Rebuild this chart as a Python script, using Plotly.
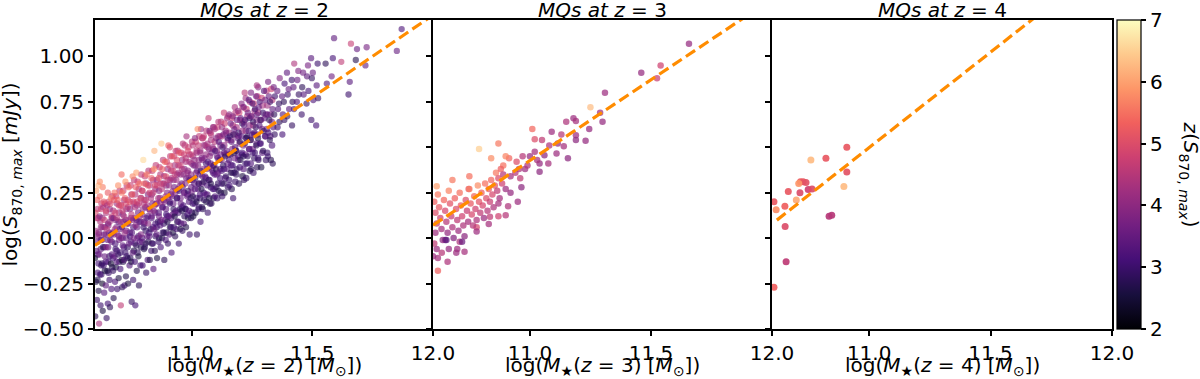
import plotly.graph_objects as go

# ---------------- data ----------------
# Panel 1 (MQs at z=2): log M*, log S870max, z(S870max) -- outer/edge population
p1_x = [
    10.601, 10.608, 10.604, 10.611, 10.600, 10.606, 10.610, 10.603, 10.607, 10.602, 10.609, 10.605,
    10.617, 10.623, 10.615, 10.621, 10.626, 10.618, 10.624, 10.616, 10.622, 10.619, 10.625, 10.620,
    10.632, 10.638, 10.630, 10.636, 10.640, 10.633, 10.637, 10.631, 10.639, 10.634, 10.636, 10.632,
    10.648, 10.653, 10.645, 10.651, 10.655, 10.647, 10.652, 10.649, 10.654, 10.646, 10.650, 10.653,
    10.662, 10.668, 10.660, 10.666, 10.670, 10.663, 10.667, 10.661, 10.669, 10.664, 10.666,
    10.677, 10.683, 10.675, 10.681, 10.685, 10.678, 10.682, 10.676, 10.684, 10.679, 10.681,
    10.692, 10.698, 10.690, 10.696, 10.700, 10.693, 10.697, 10.691, 10.699, 10.694, 10.696,
    10.707, 10.713, 10.705, 10.711, 10.715, 10.708, 10.712, 10.706, 10.714, 10.709, 10.711,
    10.722, 10.728, 10.720, 10.726, 10.730, 10.723, 10.727, 10.721, 10.729, 10.724, 10.726,
    10.737, 10.743, 10.735, 10.741, 10.745, 10.738, 10.742, 10.736, 10.744, 10.739,
    10.752, 10.758, 10.750, 10.756, 10.760, 10.753, 10.757, 10.751, 10.759, 10.754, 10.756,
    10.767, 10.773, 10.765, 10.771, 10.775, 10.768, 10.772, 10.766, 10.774, 10.769, 10.771,
    10.782, 10.788, 10.780, 10.786, 10.790, 10.783, 10.787, 10.781, 10.789, 10.784,
    10.797, 10.803, 10.795, 10.801, 10.805, 10.798, 10.802, 10.796, 10.804, 10.800,
    10.812, 10.818, 10.810, 10.816, 10.820, 10.813, 10.817, 10.811, 10.819, 10.814,
    10.827, 10.833, 10.825, 10.831, 10.835, 10.828, 10.832, 10.826, 10.834,
    10.842, 10.848, 10.840, 10.846, 10.850, 10.843, 10.847, 10.841, 10.849, 10.844, 10.846,
    10.857, 10.863, 10.855, 10.861, 10.865, 10.858, 10.862, 10.856, 10.864,
    10.872, 10.878, 10.870, 10.876, 10.880, 10.873, 10.877, 10.871, 10.879, 10.875,
    10.887, 10.893, 10.885, 10.891, 10.895, 10.888, 10.892, 10.886, 10.894, 10.889,
    10.902, 10.908, 10.900, 10.906, 10.910, 10.903, 10.907, 10.901, 10.909, 10.904,
    10.917, 10.923, 10.915, 10.921, 10.925, 10.918, 10.922, 10.916, 10.924, 10.919,
    10.932, 10.938, 10.930, 10.936, 10.940, 10.933, 10.937, 10.931, 10.939, 10.934,
    10.947, 10.953, 10.945, 10.951, 10.955, 10.948, 10.952, 10.946, 10.954, 10.949,
    10.962, 10.968, 10.960, 10.966, 10.970, 10.963, 10.967, 10.961, 10.969, 10.964,
    10.977, 10.983, 10.975, 10.981, 10.985, 10.978, 10.982, 10.976, 10.984, 10.979,
    10.992, 10.998, 10.990, 10.996, 11.000, 10.993, 10.997, 10.991, 10.999,
    11.007, 11.013, 11.005, 11.011, 11.015, 11.008, 11.012, 11.006, 11.014,
    11.022, 11.028, 11.020, 11.026, 11.030, 11.023, 11.027, 11.021, 11.029,
    11.037, 11.043, 11.035, 11.041, 11.045, 11.038, 11.042, 11.036, 11.044, 11.039,
    11.052, 11.058, 11.050, 11.056, 11.060, 11.053, 11.057, 11.051,
    11.067, 11.073, 11.065, 11.071, 11.075, 11.068, 11.072, 11.066, 11.074,
    11.082, 11.088, 11.080, 11.086, 11.090, 11.083, 11.087, 11.081, 11.089,
    11.097, 11.103, 11.095, 11.101, 11.105, 11.098, 11.102, 11.096,
    11.112, 11.118, 11.110, 11.116, 11.120, 11.113, 11.117, 11.111,
    11.127, 11.133, 11.125, 11.131, 11.135, 11.128, 11.132, 11.126, 11.134,
    11.142, 11.148, 11.140, 11.146, 11.150, 11.143, 11.147,
    11.157, 11.163, 11.155, 11.161, 11.165, 11.158, 11.162, 11.156,
    11.172, 11.178, 11.170, 11.176, 11.180, 11.173, 11.177, 11.171, 11.179,
    11.187, 11.193, 11.185, 11.191, 11.195, 11.188, 11.192,
    11.202, 11.208, 11.200, 11.206, 11.210, 11.203, 11.207,
    11.217, 11.223, 11.215, 11.221, 11.225, 11.218, 11.222, 11.216, 11.224,
    11.232, 11.238, 11.230, 11.236, 11.240, 11.233, 11.237,
    11.247, 11.253, 11.245, 11.251, 11.255, 11.248, 11.252, 11.246,
    11.262, 11.268, 11.260, 11.266, 11.270, 11.263, 11.267,
    11.277, 11.283, 11.275, 11.281, 11.285, 11.278, 11.282, 11.276,
    11.296, 11.304, 11.298, 11.302, 11.295, 11.305, 11.300,
    11.316, 11.324, 11.318, 11.322, 11.315, 11.325, 11.320, 11.317,
    11.336, 11.344, 11.338, 11.342, 11.335, 11.345, 11.340,
    11.356, 11.364, 11.358, 11.362, 11.355, 11.365,
    11.376, 11.384, 11.378, 11.382, 11.375, 11.385,
    11.396, 11.404, 11.398, 11.402, 11.395,
    11.416, 11.424, 11.418, 11.422, 11.415, 11.425,
    11.436, 11.444, 11.438, 11.442,
    11.456, 11.464, 11.458, 11.462,
    11.476, 11.484, 11.478, 11.482,
    11.496, 11.504, 11.498, 11.502, 11.495,
    11.516, 11.524, 11.518, 11.522,
    11.560, 11.555, 11.590, 11.580, 11.585, 11.620, 11.650, 11.655, 11.660,
    11.680, 11.685, 11.720, 11.725, 11.850, 11.870,
    11.22, 11.27, 11.07, 11.025, 10.91, 10.71, 10.615, 10.62,
]
p1_y = [
    -0.43, -0.34, -0.24, -0.19, -0.11, -0.07, 0.01, 0.04, 0.11, 0.14, 0.21, 0.26,
    -0.47, -0.37, -0.29, -0.20, -0.15, -0.09, -0.01, 0.02, 0.09, 0.12, 0.16, 0.23,
    -0.40, -0.30, -0.25, -0.15, -0.10, -0.05, 0.02, 0.06, 0.10, 0.17, 0.20, 0.28,
    -0.44, -0.36, -0.26, -0.18, -0.13, -0.05, -0.01, 0.05, 0.08, 0.15, 0.18, 0.25,
    -0.38, -0.28, -0.23, -0.14, -0.09, -0.01, 0.02, 0.09, 0.12, 0.19, 0.22,
    -0.33, -0.24, -0.18, -0.10, -0.06, 0.02, 0.05, 0.11, 0.14, 0.21, 0.25,
    -0.28, -0.22, -0.13, -0.09, -0.01, 0.02, 0.09, 0.11, 0.18, 0.21, 0.29,
    -0.37, -0.27, -0.17, -0.12, -0.04, 0.00, 0.06, 0.09, 0.15, 0.18, 0.25,
    -0.26, -0.21, -0.12, -0.08, 0.00, 0.03, 0.10, 0.12, 0.19, 0.22, 0.31,
    -0.25, -0.15, -0.11, -0.03, 0.01, 0.08, 0.10, 0.17, 0.20, 0.28,
    -0.35, -0.23, -0.13, -0.08, 0.00, 0.03, 0.10, 0.13, 0.20, 0.24, 0.34,
    -0.37, -0.18, -0.13, -0.04, 0.00, 0.07, 0.10, 0.17, 0.20, 0.28, 0.36,
    -0.26, -0.15, -0.10, -0.02, 0.02, 0.09, 0.12, 0.19, 0.22, 0.30,
    -0.15, -0.06, -0.02, 0.06, 0.09, 0.16, 0.19, 0.26, 0.30, 0.43,
    -0.19, -0.12, -0.03, 0.01, 0.08, 0.11, 0.18, 0.21, 0.29, 0.35,
    -0.12, -0.07, 0.01, 0.05, 0.12, 0.15, 0.22, 0.25, 0.33,
    -0.17, -0.07, -0.03, 0.05, 0.08, 0.15, 0.18, 0.25, 0.29, 0.38, 0.48,
    -0.11, -0.02, 0.02, 0.09, 0.12, 0.19, 0.22, 0.29, 0.33,
    -0.05, 0.00, 0.07, 0.10, 0.17, 0.20, 0.27, 0.30, 0.38, 0.52,
    -0.12, -0.01, 0.03, 0.10, 0.13, 0.20, 0.23, 0.30, 0.34, 0.42,
    -0.03, 0.02, 0.09, 0.12, 0.19, 0.22, 0.29, 0.32, 0.40, 0.51,
    -0.08, 0.03, 0.06, 0.13, 0.16, 0.23, 0.26, 0.33, 0.37, 0.45,
    0.01, 0.05, 0.12, 0.15, 0.22, 0.25, 0.32, 0.35, 0.43, 0.48,
    -0.03, 0.05, 0.09, 0.16, 0.19, 0.26, 0.29, 0.36, 0.40, 0.47,
    0.04, 0.08, 0.15, 0.18, 0.25, 0.28, 0.35, 0.38, 0.46, 0.52,
    0.06, 0.13, 0.16, 0.23, 0.26, 0.33, 0.36, 0.44, 0.48, 0.56,
    0.02, 0.11, 0.15, 0.22, 0.25, 0.32, 0.35, 0.42, 0.46,
    0.12, 0.19, 0.23, 0.30, 0.33, 0.40, 0.43, 0.51, 0.55,
    0.02, 0.16, 0.20, 0.27, 0.30, 0.37, 0.40, 0.47, 0.51,
    0.09, 0.17, 0.24, 0.27, 0.34, 0.37, 0.44, 0.47, 0.55, 0.60,
    0.21, 0.24, 0.31, 0.34, 0.41, 0.44, 0.51, 0.56,
    0.14, 0.22, 0.29, 0.32, 0.39, 0.42, 0.49, 0.52, 0.59,
    0.19, 0.27, 0.30, 0.37, 0.40, 0.47, 0.50, 0.57, 0.61,
    0.23, 0.28, 0.35, 0.38, 0.45, 0.48, 0.55, 0.60,
    0.26, 0.33, 0.36, 0.43, 0.46, 0.53, 0.56, 0.64,
    0.23, 0.30, 0.37, 0.40, 0.47, 0.50, 0.57, 0.61, 0.69,
    0.34, 0.38, 0.45, 0.48, 0.55, 0.58, 0.66,
    0.29, 0.36, 0.43, 0.46, 0.53, 0.56, 0.63, 0.68,
    0.22, 0.36, 0.40, 0.47, 0.50, 0.57, 0.60, 0.67, 0.72,
    0.38, 0.45, 0.48, 0.55, 0.58, 0.65, 0.70,
    0.43, 0.46, 0.53, 0.56, 0.63, 0.66, 0.74,
    0.32, 0.41, 0.45, 0.52, 0.55, 0.62, 0.65, 0.72, 0.77,
    0.45, 0.49, 0.56, 0.59, 0.66, 0.69, 0.76,
    0.38, 0.47, 0.54, 0.57, 0.64, 0.67, 0.74, 0.80,
    0.47, 0.51, 0.58, 0.61, 0.68, 0.71, 0.78,
    0.43, 0.52, 0.55, 0.62, 0.65, 0.72, 0.75, 0.83,
    0.48, 0.56, 0.59, 0.66, 0.69, 0.76, 0.81,
    0.45, 0.54, 0.58, 0.65, 0.68, 0.75, 0.78, 0.86,
    0.41, 0.57, 0.61, 0.68, 0.71, 0.78, 0.83,
    0.61, 0.64, 0.71, 0.74, 0.81, 0.88,
    0.57, 0.65, 0.68, 0.75, 0.78, 0.85,
    0.67, 0.71, 0.79, 0.82, 0.91,
    0.62, 0.71, 0.75, 0.83, 0.87, 0.96,
    0.75, 0.79, 0.87, 0.92,
    0.68, 0.79, 0.83, 0.91,
    0.74, 0.81, 0.89, 0.95,
    0.65, 0.76, 0.88, 0.91, 0.99,
    0.62, 0.77, 0.84, 0.96,
    0.85, 0.96, 1.10, 0.89, 0.99, 0.97, 0.79, 0.86, 1.07,
    0.98, 1.04, 0.95, 1.05, 1.03, 1.15,
    0.80, 0.84, 0.66, 0.60, 0.50, 0.35, 0.29, 0.31,
]
p1_z = [
    2.8, 3.0, 2.6, 3.2, 2.5, 3.4, 3.8, 4.2, 4.6, 5.0, 5.3, 6.0,
    4.3, 3.0, 2.7, 3.1, 2.9, 3.6, 3.3, 4.0, 4.4, 3.9, 4.8, 5.4,
    2.6, 3.3, 2.4, 3.0, 3.5, 2.8, 3.7, 4.1, 4.7, 4.3, 5.1, 5.6,
    2.9, 3.1, 3.4, 2.6, 3.2, 3.9, 3.4, 4.5, 3.8, 4.9, 4.4, 5.2,
    2.8, 3.2, 3.0, 2.5, 3.3, 3.7, 3.1, 4.2, 4.6, 5.0, 5.7,
    2.7, 3.2, 2.9, 3.5, 3.0, 3.9, 4.3, 3.6, 4.8, 5.1, 5.5,
    3.0, 2.6, 3.3, 2.9, 3.6, 4.0, 3.4, 4.5, 4.9, 5.3, 5.8,
    4.6, 2.8, 3.1, 2.5, 3.4, 3.8, 3.2, 4.2, 4.7, 5.0, 5.6,
    3.0, 2.7, 3.3, 3.0, 3.5, 4.1, 3.7, 4.4, 4.9, 5.2, 5.9,
    2.6, 3.2, 2.8, 3.5, 3.1, 3.9, 4.3, 4.6, 5.1, 5.4,
    2.9, 3.0, 2.6, 3.4, 3.7, 3.3, 4.0, 4.5, 4.8, 5.3, 5.7,
    3.1, 2.7, 3.1, 2.8, 3.6, 4.0, 3.5, 4.4, 4.9, 5.2, 6.0,
    2.8, 3.0, 2.6, 3.3, 3.8, 3.4, 4.2, 4.6, 5.0, 5.4,
    3.1, 2.7, 3.4, 3.0, 3.7, 4.1, 4.5, 4.9, 5.3, 6.6,
    2.9, 3.2, 2.8, 3.5, 3.9, 3.3, 4.3, 4.7, 5.1, 5.6,
    2.7, 3.0, 3.3, 2.9, 3.6, 4.0, 4.4, 4.8, 5.2,
    3.3, 2.8, 3.1, 3.6, 3.2, 3.9, 4.2, 4.6, 5.0, 5.8, 6.2,
    2.6, 3.0, 3.4, 2.9, 3.6, 4.0, 4.3, 4.7, 5.1,
    3.1, 2.7, 3.3, 3.7, 3.2, 4.1, 4.5, 4.8, 5.2, 6.4,
    2.8, 3.2, 2.8, 3.5, 3.1, 3.8, 4.2, 4.6, 5.0, 5.4,
    2.9, 3.3, 2.7, 3.4, 3.0, 3.7, 4.1, 4.5, 4.9, 5.3,
    3.2, 2.6, 3.1, 3.5, 2.9, 3.6, 4.0, 4.4, 4.8, 5.2,
    2.8, 3.2, 2.7, 3.4, 3.0, 3.8, 4.2, 4.6, 5.0, 4.7,
    3.0, 2.6, 3.3, 2.9, 3.5, 3.1, 3.9, 4.3, 4.7, 5.1,
    2.9, 3.4, 2.7, 3.2, 3.6, 3.3, 4.0, 4.4, 4.8, 4.5,
    2.7, 3.1, 2.8, 3.5, 3.0, 3.7, 4.1, 4.5, 4.9, 4.3,
    3.0, 2.8, 3.3, 2.9, 3.6, 3.2, 3.9, 4.3, 4.7,
    2.6, 3.1, 2.8, 3.4, 3.0, 3.7, 4.1, 4.5, 4.0,
    2.9, 3.0, 2.7, 3.3, 2.9, 3.5, 3.9, 4.3, 4.6,
    3.1, 2.8, 3.2, 2.7, 3.4, 3.0, 3.7, 4.1, 4.5, 4.2,
    2.9, 3.3, 2.8, 3.5, 3.1, 3.8, 4.2, 4.6,
    3.0, 2.7, 3.2, 2.9, 3.6, 3.2, 3.9, 4.3, 3.8,
    2.8, 3.1, 2.7, 3.4, 3.0, 3.7, 4.1, 4.4, 4.0,
    3.2, 2.9, 3.3, 2.8, 3.5, 3.1, 3.9, 4.3,
    2.7, 3.1, 3.5, 3.0, 3.6, 3.3, 4.0, 4.5,
    3.0, 2.8, 3.2, 2.9, 3.4, 3.0, 3.7, 4.1, 4.7,
    2.9, 3.3, 2.8, 3.5, 3.1, 3.8, 4.2,
    3.1, 2.7, 3.2, 2.9, 3.4, 3.0, 3.6, 4.0,
    3.0, 2.8, 3.1, 2.7, 3.3, 2.9, 3.5, 3.9, 4.3,
    2.9, 3.2, 2.8, 3.4, 3.0, 3.6, 4.0,
    2.7, 3.1, 2.8, 3.3, 2.9, 3.5, 3.9,
    2.9, 3.0, 2.8, 3.2, 2.9, 3.4, 3.1, 3.7, 4.2,
    2.9, 3.3, 2.8, 3.2, 3.0, 3.6, 3.3,
    2.8, 3.1, 2.7, 3.3, 2.9, 3.5, 3.1, 3.8,
    3.0, 2.8, 3.2, 2.9, 3.4, 3.0, 3.6,
    2.9, 3.1, 2.7, 3.3, 2.9, 3.5, 3.2, 3.9,
    2.8, 3.2, 2.9, 3.4, 3.0, 3.6, 3.3,
    3.0, 2.8, 3.1, 2.8, 3.3, 3.0, 3.5, 3.7,
    2.8, 2.9, 3.2, 2.8, 3.4, 3.0, 3.6,
    3.0, 2.8, 3.3, 2.9, 3.5, 3.8,
    3.1, 2.9, 3.2, 2.8, 3.4, 3.1,
    2.8, 3.3, 3.0, 3.5, 3.4,
    2.9, 3.1, 2.8, 3.4, 3.0, 4.4,
    3.2, 2.9, 3.5, 3.8,
    3.0, 3.3, 2.8, 3.6,
    2.9, 3.1, 3.4, 3.7,
    3.0, 3.2, 2.9, 3.5, 3.3,
    3.1, 2.9, 3.3, 3.0,
    3.2, 2.8, 3.4, 3.6, 3.1, 4.6, 3.0, 3.3, 4.7,
    2.7, 3.5, 3.4, 3.7, 3.5, 3.2,
    4.5, 4.3, 4.6, 5.8, 5.0, 5.4, 6.2, 5.8,
]

# Panel 1 dense core population
p1c_x = [
    10.610, 10.615, 10.612, 10.609, 10.616, 10.613, 10.611,
    10.626, 10.630, 10.624, 10.629, 10.625, 10.631, 10.627,
    10.641, 10.645, 10.639, 10.644, 10.640, 10.646, 10.642,
    10.656, 10.660, 10.654, 10.659, 10.655, 10.661, 10.657,
    10.671, 10.675, 10.669, 10.674, 10.670, 10.676, 10.672,
    10.686, 10.690, 10.684, 10.689, 10.685, 10.691, 10.687,
    10.701, 10.705, 10.699, 10.704, 10.700, 10.706, 10.702,
    10.716, 10.720, 10.714, 10.719, 10.715, 10.721, 10.717,
    10.731, 10.735, 10.729, 10.734, 10.730, 10.736, 10.732,
    10.746, 10.750, 10.744, 10.749, 10.745, 10.751, 10.747,
    10.761, 10.765, 10.759, 10.764, 10.760, 10.766, 10.762,
    10.776, 10.780, 10.774, 10.779, 10.775, 10.781, 10.777,
    10.791, 10.795, 10.789, 10.794, 10.790, 10.796, 10.792,
    10.806, 10.810, 10.804, 10.809, 10.805, 10.811, 10.807,
    10.821, 10.825, 10.819, 10.824, 10.820, 10.826, 10.822,
    10.836, 10.840, 10.834, 10.839, 10.835, 10.841, 10.837,
    10.851, 10.855, 10.849, 10.854, 10.850, 10.856, 10.852,
    10.866, 10.870, 10.864, 10.869, 10.865, 10.871, 10.867,
    10.881, 10.885, 10.879, 10.884, 10.880, 10.886, 10.882,
    10.896, 10.900, 10.894, 10.899, 10.895, 10.901, 10.897,
    10.911, 10.915, 10.909, 10.914, 10.910, 10.916, 10.912,
    10.926, 10.930, 10.924, 10.929, 10.925, 10.931, 10.927,
    10.941, 10.945, 10.939, 10.944, 10.940, 10.946, 10.942,
    10.956, 10.960, 10.954, 10.959, 10.955, 10.961, 10.957,
    10.971, 10.975, 10.969, 10.974, 10.970, 10.976, 10.972,
    10.986, 10.990, 10.984, 10.989, 10.985, 10.991, 10.987,
    11.001, 11.005, 10.999, 11.004, 11.000, 11.006, 11.002,
    11.016, 11.020, 11.014, 11.019, 11.015, 11.021, 11.017,
    11.031, 11.035, 11.029, 11.034, 11.030, 11.036, 11.032,
    11.046, 11.050, 11.044, 11.049, 11.045, 11.051, 11.047,
    11.061, 11.065, 11.059, 11.064, 11.060, 11.066, 11.062,
    11.076, 11.080, 11.074, 11.079, 11.075, 11.081, 11.077,
    11.091, 11.095, 11.089, 11.094, 11.090, 11.096, 11.092,
    11.106, 11.110, 11.104, 11.109, 11.105, 11.111, 11.107,
    11.121, 11.125, 11.119, 11.124, 11.120, 11.126, 11.122,
    11.136, 11.140, 11.134, 11.139, 11.135, 11.141, 11.137,
    11.151, 11.155, 11.149, 11.154, 11.150, 11.156, 11.152,
    11.166, 11.170, 11.164, 11.169, 11.165, 11.171, 11.167,
    11.181, 11.185, 11.179, 11.184, 11.180, 11.186, 11.182,
    11.196, 11.200, 11.194, 11.199, 11.195, 11.201, 11.197,
    11.211, 11.215, 11.209, 11.214, 11.210, 11.216, 11.212,
    11.226, 11.230, 11.224, 11.229, 11.225, 11.231, 11.227,
    11.241, 11.245, 11.239, 11.244, 11.240, 11.246, 11.242,
    11.256, 11.260, 11.254, 11.259, 11.255, 11.261, 11.257,
    11.271, 11.275, 11.269, 11.274, 11.270, 11.276, 11.272,
    11.288, 11.293, 11.286, 11.292, 11.287, 11.294, 11.290,
    11.308, 11.313, 11.306, 11.312, 11.307, 11.314, 11.310,
    11.328, 11.333, 11.326, 11.332, 11.327, 11.334, 11.330,
]
p1c_y = [
    -0.23, -0.14, -0.09, -0.02, 0.03, 0.11, 0.16,
    -0.20, -0.14, -0.06, -0.01, 0.06, 0.11, 0.19,
    -0.18, -0.13, -0.05, 0.02, 0.06, 0.14, 0.19,
    -0.19, -0.10, -0.05, 0.03, 0.07, 0.16, 0.20,
    -0.16, -0.11, -0.02, 0.03, 0.11, 0.15, 0.23,
    -0.16, -0.07, -0.03, 0.06, 0.10, 0.19, 0.23,
    -0.13, -0.08, 0.01, 0.05, 0.14, 0.18, 0.26,
    -0.13, -0.05, 0.00, 0.09, 0.13, 0.21, 0.26,
    -0.10, -0.05, 0.04, 0.08, 0.16, 0.21, 0.29,
    -0.11, -0.02, 0.03, 0.11, 0.16, 0.24, 0.29,
    -0.07, -0.03, 0.06, 0.11, 0.19, 0.24, 0.32,
    -0.08, 0.01, 0.06, 0.14, 0.18, 0.27, 0.31,
    -0.05, 0.00, 0.09, 0.13, 0.22, 0.26, 0.35,
    -0.05, 0.04, 0.08, 0.17, 0.21, 0.30, 0.34,
    -0.02, 0.03, 0.12, 0.16, 0.24, 0.29, 0.37,
    -0.03, 0.06, 0.11, 0.19, 0.24, 0.32, 0.37,
    0.01, 0.06, 0.14, 0.19, 0.27, 0.32, 0.40,
    0.00, 0.09, 0.14, 0.22, 0.26, 0.35, 0.39,
    0.03, 0.08, 0.17, 0.21, 0.30, 0.34, 0.43,
    0.03, 0.12, 0.16, 0.25, 0.29, 0.38, 0.42,
    0.06, 0.11, 0.20, 0.24, 0.32, 0.37, 0.45,
    0.06, 0.14, 0.19, 0.28, 0.32, 0.40, 0.45,
    0.09, 0.14, 0.22, 0.27, 0.35, 0.40, 0.48,
    0.08, 0.17, 0.22, 0.30, 0.35, 0.43, 0.47,
    0.12, 0.16, 0.25, 0.30, 0.38, 0.42, 0.51,
    0.11, 0.20, 0.24, 0.33, 0.37, 0.46, 0.50,
    0.14, 0.19, 0.28, 0.32, 0.41, 0.45, 0.53,
    0.14, 0.22, 0.27, 0.36, 0.40, 0.48, 0.53,
    0.17, 0.22, 0.30, 0.35, 0.43, 0.48, 0.56,
    0.16, 0.25, 0.30, 0.38, 0.43, 0.51, 0.55,
    0.20, 0.24, 0.33, 0.38, 0.46, 0.50, 0.59,
    0.19, 0.28, 0.32, 0.41, 0.45, 0.54, 0.58,
    0.22, 0.27, 0.36, 0.40, 0.49, 0.53, 0.61,
    0.22, 0.30, 0.35, 0.44, 0.48, 0.56, 0.61,
    0.25, 0.30, 0.38, 0.43, 0.51, 0.56, 0.64,
    0.25, 0.33, 0.38, 0.46, 0.51, 0.59, 0.63,
    0.28, 0.32, 0.41, 0.46, 0.54, 0.58, 0.67,
    0.27, 0.36, 0.40, 0.49, 0.54, 0.62, 0.66,
    0.31, 0.35, 0.44, 0.48, 0.57, 0.61, 0.69,
    0.30, 0.39, 0.43, 0.52, 0.56, 0.65, 0.69,
    0.34, 0.38, 0.47, 0.51, 0.59, 0.64, 0.72,
    0.33, 0.41, 0.46, 0.55, 0.59, 0.67, 0.71,
    0.37, 0.41, 0.49, 0.54, 0.62, 0.67, 0.75,
    0.36, 0.44, 0.49, 0.57, 0.62, 0.70, 0.74,
    0.39, 0.44, 0.52, 0.57, 0.65, 0.69, 0.78,
    0.39, 0.47, 0.52, 0.60, 0.65, 0.73, 0.77,
    0.43, 0.47, 0.56, 0.60, 0.68, 0.73, 0.81,
    0.43, 0.51, 0.56, 0.64, 0.68, 0.76, 0.82,
]
p1c_z = [
    2.7, 3.1, 3.2, 3.7, 3.8, 4.3, 4.5,
    2.9, 2.8, 3.4, 3.5, 4.0, 4.1, 4.7,
    2.6, 3.2, 3.3, 3.8, 3.9, 4.4, 4.6,
    3.0, 2.9, 3.5, 3.6, 4.1, 4.0, 4.8,
    2.8, 3.1, 3.4, 3.9, 3.7, 4.3, 4.5,
    2.6, 3.3, 3.2, 3.7, 4.0, 4.2, 4.7,
    2.9, 3.0, 3.5, 3.6, 4.1, 4.4, 4.6,
    2.7, 3.2, 3.3, 3.8, 3.9, 4.3, 4.8,
    3.0, 2.9, 3.6, 3.5, 4.0, 4.5, 4.5,
    2.8, 3.1, 3.4, 3.9, 3.8, 4.2, 4.7,
    2.6, 3.3, 3.2, 3.7, 4.1, 4.4, 4.6,
    2.9, 3.0, 3.5, 3.6, 4.0, 4.3, 4.8,
    2.7, 3.2, 3.3, 3.8, 3.9, 4.5, 4.6,
    3.0, 2.9, 3.6, 3.5, 4.1, 4.2, 4.7,
    2.8, 3.1, 3.4, 3.9, 3.8, 4.4, 4.5,
    2.6, 3.3, 3.2, 3.7, 4.0, 4.3, 4.8,
    2.9, 3.0, 3.5, 3.6, 4.1, 4.2, 4.6,
    2.7, 3.2, 3.3, 3.8, 3.9, 4.5, 4.7,
    3.0, 2.9, 3.6, 3.5, 4.0, 4.3, 4.5,
    2.8, 3.1, 3.4, 3.9, 3.8, 4.2, 4.8,
    2.6, 3.3, 3.2, 3.7, 4.1, 4.4, 4.6,
    2.9, 3.0, 3.5, 3.6, 4.0, 4.3, 4.7,
    2.7, 3.2, 3.3, 3.8, 3.9, 4.5, 4.5,
    3.0, 2.9, 3.6, 3.5, 4.1, 4.2, 4.8,
    2.8, 3.1, 3.4, 3.9, 3.8, 4.4, 4.6,
    2.6, 3.3, 3.2, 3.7, 4.0, 4.3, 4.7,
    2.9, 3.0, 3.5, 3.6, 4.1, 4.2, 4.5,
    2.7, 3.2, 3.3, 3.8, 3.9, 4.5, 4.8,
    3.0, 2.9, 3.6, 3.5, 4.0, 4.3, 4.6,
    2.8, 3.1, 3.4, 3.9, 3.8, 4.2, 4.7,
    2.6, 3.3, 3.2, 3.7, 4.1, 4.4, 4.5,
    2.9, 3.0, 3.5, 3.6, 4.0, 4.3, 4.8,
    2.7, 3.2, 3.3, 3.8, 3.9, 4.5, 4.6,
    3.0, 2.9, 3.6, 3.5, 4.1, 4.2, 4.7,
    2.8, 3.1, 3.4, 3.9, 3.8, 4.4, 4.5,
    2.6, 3.3, 3.2, 3.7, 4.0, 4.3, 4.8,
    2.9, 3.0, 3.5, 3.6, 4.1, 4.2, 4.6,
    2.7, 3.2, 3.3, 3.8, 3.9, 4.5, 4.7,
    3.0, 2.9, 3.6, 3.5, 4.0, 4.3, 4.5,
    2.8, 3.1, 3.4, 3.9, 3.8, 4.2, 4.8,
    2.6, 3.3, 3.2, 3.7, 4.1, 4.4, 4.6,
    2.9, 3.0, 3.5, 3.6, 4.0, 4.3, 4.7,
    2.7, 3.2, 3.3, 3.8, 3.9, 4.5, 4.5,
    3.0, 2.9, 3.6, 3.5, 4.1, 4.2, 4.8,
    2.8, 3.1, 3.4, 3.9, 3.8, 4.4, 4.6,
    2.6, 3.3, 3.2, 3.7, 4.0, 4.3, 4.7,
    2.9, 3.0, 3.5, 3.6, 4.1, 4.2, 4.5,
    2.7, 3.2, 3.3, 3.8, 3.9, 4.5, 4.8,
]

# Panel 2 (MQs at z=3)
p2_x = [11.657, 11.54, 11.46, 11.525, 11.31, 11.25, 11.29, 11.30, 11.245, 11.18,
        11.19, 11.15, 11.19, 11.23, 11.19, 11.157, 11.14, 11.13, 11.09, 11.115,
        11.11, 11.08, 11.06, 11.076, 11.04, 11.04, 11.01, 11.02, 11.05, 11.02,
        11.00, 10.97, 10.98, 10.965, 10.955, 10.945, 10.92, 10.914, 10.87, 10.79,
        10.90, 10.84, 10.89, 10.95, 10.92, 10.91, 10.90, 10.87, 10.87, 10.835,
        10.83, 10.78, 10.78, 10.73, 10.71, 10.70, 10.65, 10.665, 10.615, 10.62,
        10.66, 10.62, 10.636, 10.696, 10.615, 10.68, 10.75, 10.747, 10.60, 10.605,
        10.605, 10.61, 10.615, 10.61, 10.62, 10.625, 10.63, 10.635, 10.64, 10.645,
        10.65, 10.655, 10.66, 10.665, 10.67, 10.675, 10.68, 10.685, 10.69, 10.695,
        10.70, 10.705, 10.71, 10.715, 10.72, 10.725, 10.73, 10.735, 10.74, 10.745,
        10.75, 10.755, 10.76, 10.765, 10.77, 10.775, 10.78, 10.785, 10.79, 10.795,
        10.80, 10.805, 10.81, 10.815, 10.82, 10.825, 10.83, 10.835, 10.84, 10.845,
        10.85, 10.855, 10.86, 10.865, 10.87, 10.875, 10.88, 10.885, 10.89, 10.90,
        10.655, 10.72, 10.96, 10.99, 11.03, 10.94]
p2_y = [1.07, 0.95, 0.91, 0.88, 0.80, 0.72, 0.69, 0.64, 0.60, 0.66,
        0.645, 0.64, 0.566, 0.535, 0.54, 0.44, 0.505, 0.57, 0.585, 0.52,
        0.465, 0.51, 0.456, 0.41, 0.41, 0.365, 0.60, 0.544, 0.54, 0.475,
        0.45, 0.45, 0.38, 0.28, 0.38, 0.42, 0.34, 0.44, 0.52, 0.49,
        0.45, 0.44, 0.40, 0.20, 0.25, 0.176, 0.126, 0.12, 0.19, 0.117,
        0.077, 0.06, 0.037, -0.075, -0.02, -0.06, -0.01, -0.06, -0.06, -0.11,
        -0.13, -0.18, -0.08, -0.08, 0.286, 0.32, 0.34, 0.27, -0.10, -0.03,
        0.20, 0.14, 0.08, 0.03, 0.24, 0.17, 0.11, 0.05, -0.01, 0.21,
        0.15, 0.09, 0.03, 0.26, 0.19, 0.12, 0.06, 0.00, 0.22, 0.16,
        0.10, 0.04, 0.25, 0.18, 0.12, 0.07, 0.01, 0.21, 0.15, 0.09,
        0.27, 0.19, 0.13, 0.07, 0.23, 0.16, 0.10, 0.29, 0.20, 0.14,
        0.25, 0.18, 0.11, 0.30, 0.22, 0.15, 0.27, 0.20, 0.32, 0.24,
        0.17, 0.29, 0.36, 0.26, 0.33, 0.22, 0.38, 0.30, 0.35, 0.27,
        -0.01, -0.02, 0.33, 0.40, 0.43, 0.36]
p2_z = [4.1, 4.8, 4.1, 4.7, 4.2, 6.3, 4.2, 4.1, 4.1, 4.2,
        4.3, 4.4, 4.2, 4.1, 4.0, 4.0, 4.3, 4.5, 4.2, 4.1,
        4.2, 4.4, 4.0, 4.3, 4.1, 4.0, 5.4, 5.0, 4.6, 4.3,
        4.1, 4.5, 4.2, 4.0, 4.4, 5.0, 4.3, 5.4, 5.6, 6.5,
        5.7, 5.8, 5.5, 4.2, 4.1, 4.4, 4.5, 4.8, 4.3, 4.6,
        4.3, 4.9, 4.2, 4.3, 4.4, 4.2, 3.6, 4.1, 4.2, 4.3,
        4.4, 5.3, 4.5, 4.2, 6.0, 5.6, 5.5, 5.2, 4.2, 4.6,
        5.3, 5.0, 4.6, 4.2, 5.6, 5.2, 4.8, 4.3, 4.0, 5.4,
        4.9, 4.5, 4.1, 5.7, 5.1, 4.7, 4.4, 3.9, 5.3, 5.0,
        4.6, 4.2, 5.5, 5.2, 4.8, 4.4, 4.0, 5.0, 4.7, 4.3,
        5.6, 5.2, 4.9, 4.5, 5.4, 4.8, 4.4, 5.8, 5.1, 4.6,
        5.3, 4.9, 4.2, 5.5, 5.0, 4.5, 5.2, 4.7, 5.4, 4.9,
        4.4, 5.1, 5.6, 4.6, 5.0, 4.3, 5.3, 4.8, 4.5, 4.2,
        3.4, 3.6, 4.6, 4.4, 4.3, 4.5]

# Panel 3 (MQs at z=4)
p3_x = [10.908, 10.822, 10.76, 10.908, 10.717, 10.728, 10.74, 10.71, 10.896, 10.667,
        10.715, 10.749, 10.765, 10.70, 10.608, 10.617, 10.653, 10.654, 10.835, 10.846,
        10.658, 10.608]
p3_y = [0.50, 0.44, 0.43, 0.364, 0.31, 0.31, 0.306, 0.30, 0.284, 0.257,
        0.25, 0.268, 0.27, 0.21, 0.20, 0.156, 0.176, 0.064, 0.12, 0.126,
        -0.13, -0.27]
p3_z = [5.2, 5.2, 6.3, 5.1, 5.3, 5.2, 5.1, 5.9, 6.3, 5.2,
        5.0, 4.8, 5.0, 6.1, 5.2, 5.8, 5.3, 5.0, 4.5, 4.5,
        4.6, 5.3]

# Fitted relations (dashed lines): start x, value at start, slope
fit_x0 = [10.60, 10.60, 10.62]
fit_y0 = [-0.04, 0.071, 0.099]
fit_slope = [0.905, 0.889, 1.05]
fit_x1 = 12.0

panel_z = ["2", "3", "4"]
y_ticks = [-0.5, -0.25, 0.0, 0.25, 0.5, 0.75, 1.0]
x_ticks = [11.0, 11.5, 12.0]
cb_ticks = [2, 3, 4, 5, 6, 7]

# ---------------- build ----------------
FONT = "DejaVu Sans"
FS = 20
ORANGE = "#ff8c00"
TF = dict(family=FONT, size=FS, color="black")

fig = go.Figure()

panels = [
    [(p1c_x, p1c_y, p1c_z, 0.6, 6.6), (p1_x, p1_y, p1_z, 0.6, 6.3)],
    [(p2_x, p2_y, p2_z, 0.72, 6.5)],
    [(p3_x, p3_y, p3_z, 0.92, 7)],
]
for i, sets in enumerate(panels):
    ax = "" if i == 0 else str(i + 1)
    for xs, ys, zs, op, sz in sets:
        fig.add_trace(go.Scatter(
            x=xs, y=ys, mode="markers",
            marker=dict(color=zs, coloraxis="coloraxis", size=sz, opacity=op, line=dict(width=0)),
            xaxis="x" + ax, yaxis="y" + ax, showlegend=False, hoverinfo="skip"))
    x0 = fit_x0[i]
    y0 = fit_y0[i]
    y1 = y0 + fit_slope[i] * (fit_x1 - x0)
    fig.add_trace(go.Scatter(
        x=[x0, fit_x1], y=[y0, y1], mode="lines",
        line=dict(color=ORANGE, width=3.2, dash="11px,5px"),
        xaxis="x" + ax, yaxis="y" + ax, showlegend=False, hoverinfo="skip"))

domains = [[0.0, 0.3324], [0.3324, 0.6657], [0.6657, 1.0]]
axis_common = dict(showline=True, linecolor="black", linewidth=1.8,
                   ticks="outside", ticklen=5, tickwidth=1.5, tickcolor="black",
                   showgrid=False, zeroline=False, automargin=False, tickfont=TF)
layout = dict(
    template="none",
    width=1200, height=379, autosize=False,
    margin=dict(l=95, r=88, t=20, b=50, autoexpand=False),
    plot_bgcolor="white", paper_bgcolor="white",
    font=TF,
    coloraxis=dict(
        colorscale="Magma", cmin=2, cmax=7,
        colorbar=dict(
            x=1.0049, xanchor="left", xpad=0, y=0.5, yanchor="middle", ypad=0,
            len=1.0, lenmode="fraction", thickness=24,
            outlinewidth=1.2, outlinecolor="black",
            ticks="outside", ticklen=5, tickwidth=1.5, tickcolor="black",
            tickvals=cb_ticks, tickfont=TF)),
)
for i in range(3):
    ax = "" if i == 0 else str(i + 1)
    layout["xaxis" + ax] = dict(axis_common, domain=domains[i], range=[10.6, 12.0],
                                tickvals=x_ticks, tickformat=".1f", anchor="y" + ax,
                                mirror=True)
    layout["yaxis" + ax] = dict(axis_common, range=[-0.5, 1.2], tickvals=y_ticks,
                                tickformat=".2f", anchor="x" + ax,
                                mirror=(i == 2), showticklabels=(i == 0))
fig.update_layout(**layout)

annotations = []
for i in range(3):
    cx = (domains[i][0] + domains[i][1]) / 2
    annotations.append(dict(
        x=cx, y=1.032, xref="paper", yref="paper", xanchor="center", yanchor="middle",
        text="<i>MQs at z</i> = " + panel_z[i], showarrow=False, font=TF))
    annotations.append(dict(
        x=cx, y=-0.12, xref="paper", yref="paper", xanchor="center", yanchor="middle",
        text="log(<i>M</i><sub>★</sub>(<i>z</i> = " + panel_z[i] + ") [<i>M</i><sub>⊙</sub>])",
        showarrow=False, font=TF))
annotations.append(dict(
    x=-0.0826, y=0.5, xref="paper", yref="paper", xanchor="center", yanchor="middle",
    textangle=-90, showarrow=False,
    text="log(<i>S</i><sub>870, <i>max</i></sub> [<i>mJy</i>])", font=TF))
annotations.append(dict(
    x=1.0767, y=0.5, xref="paper", yref="paper", xanchor="center", yanchor="middle",
    textangle=90, showarrow=False,
    text="<i>z</i>(<i>S</i><sub>870, <i>max</i></sub>)", font=TF))
fig.update_layout(annotations=annotations)

fig.write_html("out.html", config={"displayModeBar": False},
               post_script="document.body.style.margin='0';document.body.style.overflow='hidden';")
